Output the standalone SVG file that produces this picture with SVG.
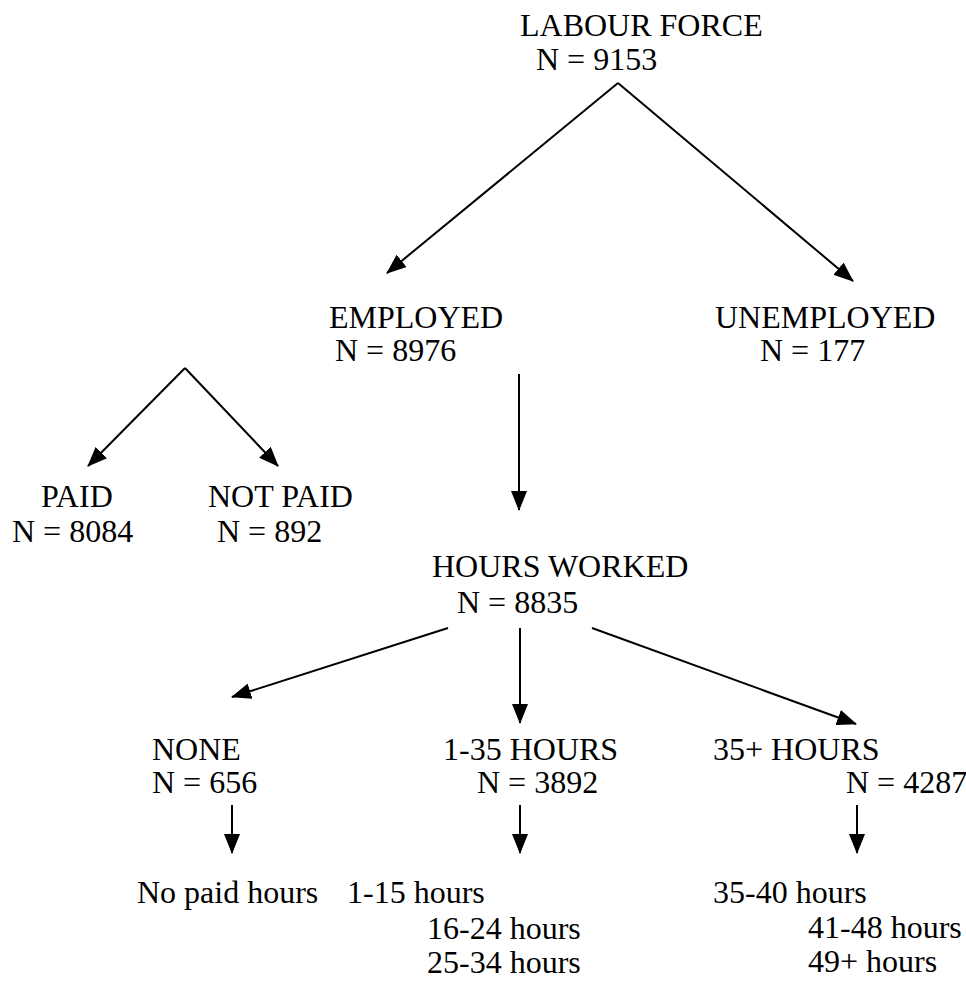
<svg xmlns="http://www.w3.org/2000/svg" width="966" height="981" viewBox="0 0 966 981">
<style>
.t{font-family:"Liberation Serif","Times New Roman",Times,serif;font-size:32px;fill:#000}
.c line{stroke:#000;stroke-width:2;marker-end:url(#ah)}
</style>
<defs>
<marker id="ah" markerUnits="userSpaceOnUse" markerWidth="20" markerHeight="16" viewBox="0 0 20 16" refX="19" refY="8" orient="auto">
<path d="M0,0 L20,8 L0,16 Z" fill="#000"/>
</marker>
</defs>
<rect width="966" height="981" fill="#fff"/>
<g class="t">
<g id="labour"><text x="520" y="36">LABOUR FORCE</text><text x="536" y="70">N = 9153</text></g>
<g id="employed"><text x="329" y="328">EMPLOYED</text><text x="335" y="361">N = 8976</text></g>
<g id="unemployed"><text x="715" y="328">UNEMPLOYED</text><text x="760" y="361">N = 177</text></g>
<g id="paid"><text x="41" y="507">PAID</text><text x="12" y="542">N = 8084</text></g>
<g id="notpaid"><text x="208" y="507">NOT PAID</text><text x="217" y="542">N = 892</text></g>
<g id="hours"><text x="432" y="577">HOURS WORKED</text><text x="457" y="613">N = 8835</text></g>
<g id="none"><text x="152" y="760">NONE</text><text x="152" y="793">N = 656</text></g>
<g id="h135"><text x="443" y="760">1-35 HOURS</text><text x="477" y="793">N = 3892</text></g>
<g id="h35p"><text x="713" y="760">35+ HOURS</text><text x="846" y="793">N = 4287</text></g>
<g id="nopaid"><text x="137" y="903">No paid hours</text></g>
<g id="sub135"><text x="347" y="903">1-15 hours</text><text x="427" y="939">16-24 hours</text><text x="427" y="973">25-34 hours</text></g>
<g id="sub35p"><text x="713" y="903">35-40 hours</text><text x="808" y="938">41-48 hours</text><text x="808" y="972">49+ hours</text></g>
</g>
<g class="c" id="connectors">
<line x1="618" y1="83" x2="387" y2="273"/>
<line x1="618" y1="83" x2="853" y2="281"/>
<line x1="185" y1="368" x2="88" y2="466"/>
<line x1="185" y1="368" x2="278" y2="466"/>
<line x1="519" y1="374" x2="519" y2="510"/>
<line x1="448" y1="628" x2="232" y2="697"/>
<line x1="520" y1="628" x2="520" y2="723"/>
<line x1="592" y1="628" x2="856" y2="724"/>
<line x1="232" y1="805" x2="232" y2="853"/>
<line x1="520" y1="805" x2="520" y2="853"/>
<line x1="857" y1="805" x2="857" y2="853"/>
</g>
</svg>
